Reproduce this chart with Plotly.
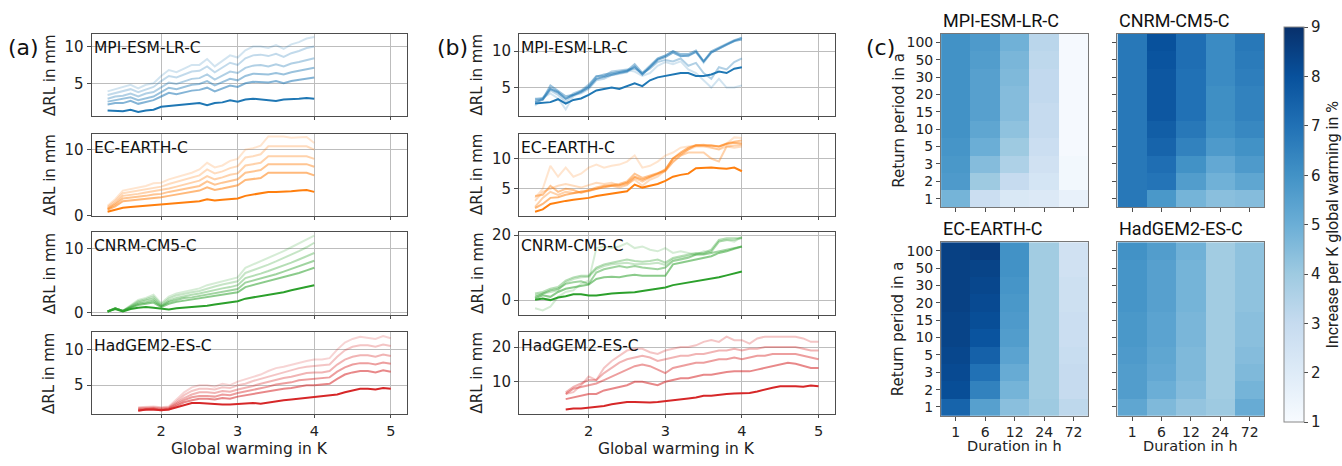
import plotly.graph_objects as go

W, H = 1342, 466

# ---------------- data ----------------
X_A = [1.3, 1.4, 1.5, 1.6, 1.7, 1.8, 1.9, 2.0, 2.1, 2.2, 2.3, 2.4, 2.5, 2.6, 2.7, 2.8, 2.9, 3.0,
       3.1, 3.2, 3.3, 3.4, 3.5, 3.6, 3.7, 3.8, 3.9, 4.0]
X_H = [1.7, 1.8, 1.9, 2.0, 2.1, 2.2, 2.3, 2.4, 2.5, 2.6, 2.7, 2.8, 2.9, 3.0, 3.1, 3.2, 3.3, 3.4,
       3.5, 3.6, 3.7, 3.8, 3.9, 4.0, 4.1, 4.2, 4.3, 4.4, 4.5, 4.6, 4.7, 4.8, 4.9, 5.0]

# panel (a): line 0 = darkest, then lighter ones
A_MPI = [
    [1.3, 1.3, 1.2, 1.4, 1.1, 1.3, 1.4, 1.8, 1.9, 2.0, 2.1, 2.2, 2.3, 2.0, 2.3, 2.4, 2.7, 2.5, 2.8, 2.9, 2.8, 2.7, 2.6, 2.8, 2.8, 2.9, 3.0, 2.9],
    [2.1, 2.3, 2.3, 2.6, 2.2, 2.5, 2.7, 3.2, 3.7, 3.5, 3.8, 4.0, 4.1, 4.4, 3.9, 4.3, 4.7, 4.5, 5.0, 5.2, 5.2, 5.1, 5.3, 5.0, 5.3, 5.5, 5.7, 5.8],
    [2.5, 2.7, 2.8, 3.1, 2.7, 3.0, 3.2, 3.8, 4.4, 4.2, 4.5, 4.8, 4.9, 5.3, 4.7, 5.1, 5.6, 5.4, 6.0, 6.3, 6.3, 6.2, 6.4, 6.2, 6.5, 6.7, 6.9, 7.1],
    [2.9, 3.2, 3.3, 3.6, 3.2, 3.6, 3.8, 4.5, 5.1, 4.9, 5.3, 5.6, 5.7, 6.2, 5.5, 6.0, 6.6, 6.4, 7.1, 7.4, 7.5, 7.3, 7.6, 7.3, 7.7, 7.9, 8.2, 8.4],
    [3.4, 3.7, 3.9, 4.2, 3.8, 4.2, 4.5, 5.3, 6.0, 5.8, 6.2, 6.6, 6.7, 7.3, 6.5, 7.1, 7.8, 7.5, 8.4, 8.8, 8.9, 8.7, 9.0, 8.6, 9.1, 9.4, 9.8, 10.0],
    [3.9, 4.2, 4.5, 4.8, 4.3, 4.8, 5.0, 6.0, 6.8, 6.5, 7.0, 7.5, 7.5, 8.3, 7.3, 8.0, 8.8, 8.5, 9.5, 10.0, 10.0, 9.8, 10.2, 9.7, 10.3, 10.6, 11.1, 11.3],
]
A_EC = [
    [0.6, 0.9, 1.2, 1.3, 1.4, 1.4, 1.5, 1.6, 1.7, 1.8, 1.9, 2.0, 2.2, 2.5, 2.3, 2.4, 2.5, 2.6, 3.0, 3.2, 3.3, 3.6, 3.6, 3.6, 3.7, 3.8, 3.9, 3.6],
    [0.9, 1.4, 2.2, 2.3, 2.4, 2.5, 2.7, 2.8, 3.0, 3.2, 3.4, 3.5, 3.8, 4.3, 3.9, 4.1, 4.4, 4.6, 5.4, 5.6, 5.7, 6.5, 6.5, 6.5, 6.4, 6.4, 6.5, 6.1],
    [1.0, 1.7, 2.6, 2.7, 2.8, 3.0, 3.2, 3.3, 3.6, 3.8, 4.0, 4.2, 4.5, 5.2, 4.7, 5.0, 5.3, 5.5, 6.5, 6.7, 6.9, 7.8, 7.8, 7.8, 7.7, 7.7, 7.8, 7.4],
    [1.1, 1.9, 3.0, 3.1, 3.3, 3.5, 3.7, 3.8, 4.1, 4.4, 4.7, 4.9, 5.3, 6.0, 5.5, 5.8, 6.2, 6.4, 7.6, 7.8, 8.0, 9.0, 9.0, 9.0, 8.9, 8.9, 9.0, 8.6],
    [1.3, 2.2, 3.4, 3.6, 3.8, 4.0, 4.3, 4.4, 4.8, 5.1, 5.4, 5.7, 6.1, 7.0, 6.4, 6.7, 7.2, 7.5, 8.8, 9.0, 9.3, 10.5, 10.5, 10.5, 10.4, 10.4, 10.5, 10.0],
    [1.5, 2.5, 3.8, 4.0, 4.3, 4.5, 4.9, 5.0, 5.5, 5.8, 6.2, 6.5, 7.0, 8.0, 7.3, 7.6, 8.3, 8.6, 10.0, 10.2, 10.6, 12.0, 12.0, 12.0, 11.8, 11.8, 11.9, 11.0],
]
A_CNRM = [
    [0.2, 0.6, 0.2, 0.6, 0.8, 0.9, 0.8, 0.6, 0.5, 0.7, 0.8, 0.8, 0.9, 1.1, 1.3, 1.5, 1.6, 1.8, 2.2, 2.4, 2.5, 2.8, 3.0, 3.2, 3.5, 3.8, 4.0, 4.3],
    [0.2, 0.7, 0.3, 0.8, 1.2, 1.4, 1.6, 0.9, 1.4, 1.7, 1.9, 2.1, 2.2, 2.5, 2.7, 2.9, 3.0, 3.2, 4.0, 4.3, 4.6, 4.9, 5.2, 5.5, 5.9, 6.2, 6.6, 7.0],
    [0.2, 0.7, 0.3, 0.9, 1.4, 1.6, 1.9, 1.0, 1.7, 2.0, 2.3, 2.4, 2.6, 2.9, 3.1, 3.3, 3.5, 3.7, 4.7, 5.0, 5.3, 5.7, 6.0, 6.4, 6.8, 7.2, 7.6, 8.1],
    [0.2, 0.7, 0.3, 1.0, 1.6, 1.9, 2.2, 1.1, 1.9, 2.3, 2.6, 2.8, 3.0, 3.3, 3.6, 3.8, 4.0, 4.3, 5.4, 5.7, 6.1, 6.5, 6.9, 7.3, 7.8, 8.3, 8.8, 9.3],
    [0.2, 0.7, 0.3, 1.1, 1.8, 2.1, 2.5, 1.3, 2.2, 2.7, 3.0, 3.2, 3.4, 3.8, 4.1, 4.4, 4.6, 4.9, 6.2, 6.6, 7.1, 7.5, 8.0, 8.5, 9.0, 9.6, 10.2, 10.9],
    [0.2, 0.7, 0.3, 1.2, 2.0, 2.3, 2.8, 1.5, 2.5, 3.0, 3.3, 3.6, 3.8, 4.3, 4.6, 5.0, 5.2, 5.5, 7.0, 7.5, 8.0, 8.5, 9.0, 9.6, 10.2, 10.8, 11.4, 12.0],
]
A_HAD = [
    [1.4, 1.6, 1.6, 1.5, 1.6, 1.9, 2.2, 2.5, 2.5, 2.4, 2.4, 2.3, 2.3, 2.4, 2.4, 2.5, 2.4, 2.6, 2.7, 2.9, 3.0, 3.1, 3.2, 3.3, 3.4, 3.5, 3.7, 4.0, 4.3, 4.5, 4.5, 4.4, 4.6, 4.5],
    [1.5, 1.6, 1.6, 1.5, 1.6, 2.1, 2.6, 2.9, 3.1, 3.1, 3.0, 3.2, 3.1, 3.4, 3.6, 3.8, 3.9, 4.1, 4.3, 4.5, 4.6, 4.8, 5.0, 5.0, 5.1, 5.2, 5.9, 6.5, 6.8, 7.0, 7.0, 6.8, 7.1, 6.9],
    [1.6, 1.7, 1.7, 1.6, 1.7, 2.3, 2.9, 3.3, 3.5, 3.5, 3.4, 3.7, 3.6, 3.9, 4.1, 4.3, 4.5, 4.8, 5.1, 5.2, 5.4, 5.7, 5.8, 5.9, 5.9, 6.1, 6.9, 7.5, 7.9, 8.1, 8.1, 7.9, 8.2, 8.0],
    [1.7, 1.8, 1.8, 1.7, 1.8, 2.5, 3.2, 3.7, 4.0, 4.0, 3.9, 4.2, 4.1, 4.4, 4.6, 4.9, 5.2, 5.5, 5.8, 6.0, 6.2, 6.5, 6.7, 6.8, 6.8, 7.0, 7.9, 8.6, 9.0, 9.2, 9.2, 9.0, 9.3, 9.1],
    [1.8, 1.9, 1.9, 1.8, 1.9, 2.7, 3.6, 4.2, 4.5, 4.5, 4.4, 4.7, 4.6, 5.0, 5.2, 5.6, 5.9, 6.3, 6.6, 6.8, 7.1, 7.4, 7.6, 7.7, 7.8, 7.9, 9.0, 9.9, 10.4, 10.6, 10.6, 10.4, 10.7, 10.5],
    [1.9, 2.0, 2.0, 1.9, 2.0, 3.0, 4.0, 4.7, 5.0, 5.0, 4.8, 5.2, 5.0, 5.5, 5.8, 6.2, 6.5, 7.0, 7.4, 7.6, 7.9, 8.2, 8.4, 8.6, 8.6, 8.8, 10.0, 11.0, 11.5, 11.8, 11.7, 11.5, 11.9, 11.6],
]

# panel (b)
B_MPI = [
    [2.8, 2.9, 3.0, 3.4, 2.8, 3.3, 3.5, 4.0, 4.6, 4.8, 5.0, 4.8, 5.2, 5.6, 5.2, 6.0, 6.4, 6.6, 6.7, 7.0, 7.0, 6.6, 6.6, 6.8, 7.2, 7.0, 7.6, 7.8],
    [3.0, 3.3, 4.8, 4.3, 3.5, 3.9, 4.4, 5.0, 6.2, 6.5, 6.8, 7.0, 7.2, 7.9, 6.8, 7.8, 8.8, 9.2, 9.8, 9.3, 9.4, 9.9, 8.6, 9.8, 10.4, 10.9, 11.4, 11.6],
    [3.2, 3.4, 5.3, 4.6, 3.8, 4.0, 4.5, 5.2, 6.5, 6.8, 7.0, 7.2, 7.3, 8.2, 7.0, 8.0, 9.0, 9.4, 10.0, 9.6, 9.6, 10.1, 8.6, 10.0, 10.5, 11.0, 11.5, 11.8],
    [3.4, 3.6, 4.9, 4.4, 3.4, 4.2, 4.6, 5.4, 6.6, 6.6, 7.2, 7.3, 7.5, 7.6, 7.0, 7.6, 8.5, 8.8, 8.6, 9.0, 8.0, 8.4, 7.0, 6.2, 7.8, 7.5, 8.5, 9.0],
    [3.5, 3.4, 4.6, 4.0, 3.0, 4.0, 4.2, 4.8, 6.0, 6.2, 6.7, 6.9, 7.1, 7.8, 6.8, 7.8, 8.9, 9.4, 10.0, 9.4, 9.3, 9.9, 8.4, 9.8, 10.3, 10.9, 11.4, 11.9],
    [2.5, 3.6, 4.2, 3.5, 2.0, 3.8, 4.3, 5.0, 6.2, 6.4, 6.9, 7.2, 7.4, 7.2, 6.6, 7.0, 8.0, 8.5, 8.2, 8.6, 7.5, 7.0, 6.0, 5.0, 6.2, 5.0, 5.0, 5.3],
]
B_EC = [
    [1.2, 1.6, 2.5, 2.8, 3.0, 3.2, 3.3, 3.5, 3.8, 4.0, 4.1, 4.3, 4.6, 5.7, 5.2, 5.5, 5.8, 6.3, 7.0, 7.3, 7.5, 8.4, 8.5, 8.5, 8.4, 8.3, 8.5, 7.9],
    [1.8, 2.5, 3.5, 3.6, 4.0, 4.3, 4.5, 4.7, 5.0, 5.3, 5.5, 5.6, 6.0, 7.0, 6.5, 7.0, 7.5, 8.2, 10.0, 11.0, 11.8, 12.2, 12.2, 12.1, 12.0, 12.4, 12.6, 12.5],
    [3.8, 4.0, 5.5, 4.5, 5.0, 4.8, 4.3, 4.8, 5.2, 5.5, 5.6, 5.8, 6.2, 7.5, 6.8, 7.2, 7.7, 8.0, 10.0, 10.8, 11.5, 12.2, 12.2, 12.2, 12.0, 12.5, 12.8, 13.0],
    [2.0, 3.5, 4.5, 4.0, 4.5, 4.3, 4.5, 4.6, 5.0, 5.4, 5.5, 5.2, 5.6, 6.8, 6.2, 6.9, 7.4, 7.9, 9.4, 10.5, 11.0, 11.0, 11.0, 10.0, 9.5, 12.0, 12.2, 12.3],
    [3.0, 4.5, 5.0, 5.5, 5.8, 5.5, 5.2, 5.6, 6.0, 5.8, 6.0, 5.5, 5.8, 6.5, 5.5, 6.5, 7.0, 8.0, 9.5, 10.5, 11.5, 12.0, 12.0, 11.8, 11.5, 12.0, 11.8, 12.0],
    [3.5, 5.0, 8.8, 7.0, 8.5, 7.0, 7.5, 8.5, 9.0, 8.5, 8.8, 9.0, 9.5, 10.5, 8.5, 8.8, 9.5, 10.5, 11.0, 11.8, 12.0, 12.2, 12.3, 11.8, 11.5, 12.5, 13.5, 13.4],
]
B_CNRM = [
    [0.1, 0.5, 0.0, 0.8, 1.2, 1.8, 1.8, 1.4, 1.4, 1.8, 2.0, 2.2, 2.3, 2.4, 2.8, 3.2, 3.5, 3.9, 4.6, 5.0, 5.3, 5.8, 6.2, 6.5, 7.0, 7.6, 8.2, 8.8],
    [0.5, 1.5, 1.0, 2.5, 3.5, 4.0, 4.5, 4.8, 6.5, 7.0, 7.2, 7.0, 7.5, 7.8, 7.5, 7.6, 7.5, 7.5, 11.0, 11.5, 12.0, 12.5, 13.0, 13.5, 14.5, 15.0, 15.8, 16.5],
    [1.0, 2.0, 3.0, 3.5, 5.0, 5.5, 5.8, 5.0, 8.5, 9.5, 10.0, 10.5, 10.0, 10.5, 10.0, 9.8, 9.5, 10.0, 12.0, 12.5, 13.0, 14.0, 14.0, 14.5, 15.0, 15.5, 16.0, 16.5],
    [2.0, 2.5, 3.5, 4.0, 6.0, 7.0, 7.5, 7.5, 10.0, 11.0, 11.5, 12.0, 12.5, 12.0, 11.8, 12.0, 12.5, 11.5, 13.0, 13.5, 14.0, 14.5, 14.5, 15.5, 18.5, 19.0, 19.0, 19.0],
    [1.5, 2.0, 2.5, 3.0, 5.5, 6.5, 7.0, 7.2, 9.5, 10.5, 11.0, 11.2, 11.5, 11.0, 11.0, 11.2, 11.5, 10.8, 12.5, 13.0, 13.5, 14.0, 14.2, 15.0, 18.0, 18.5, 18.5, 19.2],
    [-2.5, -3.2, -2.0, 1.0, 2.5, 3.0, 5.0, 6.0, 16.0, 16.5, 16.0, 16.5, 17.5, 16.0, 16.5, 15.5, 15.0, 16.0, 14.5, 15.0, 14.5, 14.0, 15.0, 14.8, 18.0, 18.5, 18.0, 19.5],
]
B_HAD = [
    [2.0, 2.3, 2.3, 2.5, 2.6, 3.0, 3.5, 3.8, 4.2, 4.2, 4.0, 4.0, 4.2, 4.4, 4.6, 5.0, 5.2, 5.5, 6.0, 6.0, 6.3, 6.5, 6.6, 6.7, 6.8, 7.2, 7.8, 8.3, 8.7, 8.8, 8.7, 8.6, 8.9, 8.7],
    [5.0, 5.5, 6.0, 6.5, 6.5, 7.5, 8.0, 8.5, 9.0, 10.0, 10.0, 9.5, 9.0, 10.0, 10.5, 11.0, 11.0, 11.5, 12.0, 12.0, 12.5, 12.8, 13.0, 13.0, 13.0, 13.5, 14.0, 14.5, 15.0, 15.5, 15.2, 14.5, 14.0, 14.0],
    [6.5, 8.0, 8.5, 9.0, 9.5, 10.5, 11.5, 12.5, 13.5, 14.5, 15.0, 14.5, 13.5, 12.5, 14.0, 14.5, 15.0, 15.5, 15.5, 16.0, 16.5, 16.5, 17.0, 16.5, 17.0, 17.5, 17.5, 18.0, 18.0, 18.0, 18.0, 17.5, 17.0, 16.5],
    [7.0, 8.5, 9.5, 10.5, 10.5, 12.5, 14.0, 15.5, 16.5, 17.0, 17.5, 17.0, 16.0, 16.5, 17.0, 17.5, 17.5, 18.0, 18.0, 18.5, 19.0, 19.0, 19.5, 19.0, 19.5, 19.5, 20.0, 20.0, 20.0, 20.0, 20.0, 19.5, 19.0, 19.0],
    [6.5, 7.0, 9.0, 11.5, 10.5, 14.0, 16.0, 17.5, 19.0, 19.5, 19.5, 18.5, 18.0, 19.0, 19.5, 20.0, 20.0, 20.5, 21.5, 22.0, 21.5, 23.0, 22.0, 22.0, 21.0, 22.5, 23.0, 23.0, 23.0, 23.0, 23.0, 22.5, 21.5, 21.5],
]

# panel (c): rows = return periods (1..100), cols = durations
DURATIONS = ["1", "6", "12", "24", "72"]
RETURN_PERIODS = ["1", "2", "3", "5", "10", "15", "20", "30", "50", "100"]
C_MPI = [
    [4.8, 2.8, 2.2, 2.1, 1.6],
    [5.7, 4.0, 3.0, 2.4, 1.2],
    [5.8, 4.5, 3.6, 2.6, 1.2],
    [5.9, 5.0, 4.0, 2.8, 1.1],
    [6.0, 5.3, 4.3, 3.0, 1.1],
    [6.0, 5.5, 4.5, 3.0, 1.1],
    [6.0, 5.5, 4.5, 3.1, 1.1],
    [6.0, 5.5, 4.6, 3.1, 1.1],
    [6.0, 5.6, 4.7, 3.2, 1.1],
    [6.0, 5.7, 4.9, 3.3, 1.1],
]
C_CNRM = [
    [6.8, 5.8, 4.8, 4.4, 4.5],
    [6.8, 6.9, 5.6, 4.9, 5.3],
    [6.8, 7.1, 6.0, 5.2, 5.7],
    [6.8, 7.4, 6.5, 5.7, 6.0],
    [6.8, 7.6, 6.8, 6.0, 6.3],
    [6.8, 7.8, 7.0, 6.1, 6.5],
    [6.8, 7.8, 7.0, 6.1, 6.5],
    [6.8, 7.8, 7.0, 6.2, 6.6],
    [6.8, 7.9, 7.1, 6.2, 6.7],
    [6.8, 8.0, 7.1, 6.2, 6.8],
]
C_EC = [
    [7.4, 5.5, 4.4, 4.0, 3.2],
    [8.1, 6.5, 4.8, 3.9, 3.0],
    [8.2, 7.0, 5.1, 3.9, 3.0],
    [8.3, 7.5, 5.4, 3.9, 2.9],
    [8.4, 7.9, 5.6, 3.9, 2.8],
    [8.4, 8.1, 5.7, 3.9, 2.8],
    [8.5, 8.2, 5.8, 3.9, 2.7],
    [8.5, 8.3, 5.9, 3.9, 2.7],
    [8.5, 8.4, 6.0, 3.9, 2.6],
    [8.5, 8.6, 6.0, 3.9, 2.6],
]
C_HAD = [
    [5.3, 4.6, 4.2, 4.0, 5.1],
    [5.6, 5.0, 4.5, 3.9, 4.8],
    [5.6, 5.2, 4.6, 3.9, 4.6],
    [5.7, 5.3, 4.6, 3.9, 4.5],
    [5.8, 5.4, 4.7, 3.9, 4.4],
    [5.8, 5.4, 4.7, 3.9, 4.4],
    [5.9, 5.5, 4.8, 3.9, 4.3],
    [5.9, 5.5, 4.8, 3.9, 4.3],
    [5.9, 5.5, 4.8, 3.9, 4.3],
    [6.0, 5.6, 4.9, 3.9, 4.3],
]

MODELS = ["MPI-ESM-LR-C", "EC-EARTH-C", "CNRM-CM5-C", "HadGEM2-ES-C"]
COLORS = [(31, 119, 180), (255, 127, 14), (44, 160, 44), (214, 39, 40)]
ALPHAS = [1.0, 0.55, 0.45, 0.35, 0.27, 0.2]

# ---------------- layout helpers ----------------
def px_x(p):
    return p / W

def px_y(p):
    return 1 - p / H

ROWS = [(29, 114), (132, 217), (234, 319), (337, 422)]
COL_A = (92, 409)
COL_B = (521.7, 839)
YR_A = [[0.5, 11.7], [-0.05, 12.4], [-0.3, 12.5], [0.9, 12.45]]
YR_B = [[1.05, 12.35], [0.5, 14.1], [-4.5, 20.8], [0.6, 24.3]]
YT_A = [[5, 10], [0, 10], [0, 10], [5, 10]]
YT_B = [[5, 10], [5, 10], [0, 20], [10, 20]]

FONT = "DejaVu Sans"
FRAME = "#4d4d4d"
GRID = "#bdbdbd"
TXT = "#222"

fig = go.Figure()
layout = dict(
    width=W, height=H, margin=dict(l=0, r=0, t=0, b=0),
    paper_bgcolor="white", plot_bgcolor="white", showlegend=False,
    font=dict(family=FONT, size=15, color=TXT),
)
annotations = []

panels_a = [A_MPI, A_EC, A_CNRM, A_HAD]
panels_b = [B_MPI, B_EC, B_CNRM, B_HAD]

ax = 0
for col, (panels, colpx, yr, yt) in enumerate([(panels_a, COL_A, YR_A, YT_A), (panels_b, COL_B, YR_B, YT_B)]):
    for r in range(4):
        ax += 1
        xs = X_H if r == 3 else X_A
        lines = panels[r]
        c = COLORS[r]
        for i in range(len(lines) - 1, -1, -1):
            fig.add_trace(go.Scatter(
                x=xs, y=lines[i], mode="lines",
                line=dict(color=f"rgba({c[0]},{c[1]},{c[2]},{ALPHAS[i]})", width=2),
                xaxis=f"x{ax}", yaxis=f"y{ax}", hoverinfo="skip"))
        top, bot = ROWS[r]
        layout[f"xaxis{ax}"] = dict(
            domain=[px_x(colpx[0]), px_x(colpx[1])], anchor=f"y{ax}",
            range=[1.09, 5.21], tickvals=[2, 3, 4, 5], showticklabels=(r == 3),
            ticks="outside", ticklen=3, tickcolor=FRAME, showgrid=True, gridcolor=GRID,
            showline=True, mirror=True, linecolor=FRAME, linewidth=1, zeroline=False,
            tickfont=dict(size=14.5, color=TXT),
        )
        layout[f"yaxis{ax}"] = dict(
            domain=[px_y(bot), px_y(top)], anchor=f"x{ax}",
            range=yr[r], tickvals=yt[r], ticks="outside", ticklen=4, tickcolor=FRAME,
            showgrid=True, gridcolor=GRID, showline=True, mirror=True, linecolor=FRAME,
            linewidth=1, zeroline=False, tickfont=dict(size=15, color=TXT),
        )
        annotations.append(dict(
            text=MODELS[r], xref="paper", yref="paper", x=px_x(colpx[0]), y=px_y(top + 3),
            xanchor="left", yanchor="top", showarrow=False, font=dict(size=15.5, color="#111")))
        annotations.append(dict(
            text="ΔRL in mm", xref="paper", yref="paper",
            x=px_x(colpx[0] - 42), y=px_y((top + bot) / 2), textangle=-90,
            xanchor="center", yanchor="middle", showarrow=False, font=dict(size=15, color=TXT)))
    annotations.append(dict(
        text="Global warming in K", xref="paper", yref="paper",
        x=px_x((colpx[0] + colpx[1]) / 2), y=px_y(458), xanchor="center", yanchor="middle",
        showarrow=False, font=dict(size=15.5, color=TXT)))

# ---------------- heatmaps ----------------
HEAT_X = [(946, 1094), (1123.3, 1271)]
HEAT_Y = [(28.7, 208), (244, 423.3)]
heat_data = [(C_MPI, "MPI-ESM-LR-C", 0, 0), (C_CNRM, "CNRM-CM5-C", 1, 0),
             (C_EC, "EC-EARTH-C", 0, 1), (C_HAD, "HadGEM2-ES-C", 1, 1)]
for k, (z, name, cx, ry) in enumerate(heat_data):
    ax += 1
    fig.add_trace(go.Heatmap(
        z=z, x=DURATIONS, y=RETURN_PERIODS, zmin=1, zmax=9, colorscale="Blues",
        xaxis=f"x{ax}", yaxis=f"y{ax}", showscale=(k == 0), hoverinfo="skip",
        colorbar=dict(
            x=px_x(1291), xanchor="left", xpad=0, ypad=0,
            y=px_y((28.7 + 423.3) / 2), yanchor="middle",
            lenmode="pixels", len=394.6, thicknessmode="pixels", thickness=20,
            outlinewidth=1, outlinecolor="#888", tickvals=list(range(1, 10)),
            ticks="outside", ticklen=4, tickcolor=FRAME, tickfont=dict(size=15, color=TXT),
            title=dict(text="Increase per K global warming in %", side="right",
                       font=dict(family="Roboto", size=16, color=TXT)),
        ),
    ))
    x0, x1 = HEAT_X[cx]
    y0, y1 = HEAT_Y[ry]
    layout[f"xaxis{ax}"] = dict(
        domain=[px_x(x0), px_x(x1)], anchor=f"y{ax}", type="category",
        tickmode="array", tickvals=DURATIONS, ticktext=DURATIONS,
        showticklabels=(ry == 1), ticks="outside", ticklen=4, tickcolor=FRAME,
        showline=True, mirror=True, linecolor="#777", linewidth=1, showgrid=False,
        tickfont=dict(size=14, color=TXT),
    )
    layout[f"yaxis{ax}"] = dict(
        domain=[px_y(y1), px_y(y0)], anchor=f"x{ax}", type="category",
        tickmode="array", tickvals=RETURN_PERIODS, ticktext=RETURN_PERIODS,
        showticklabels=(cx == 0), ticks="outside", ticklen=4, tickcolor=FRAME,
        showline=True, mirror=True, linecolor="#777", linewidth=1, showgrid=False,
        tickfont=dict(size=14, color=TXT),
    )
    annotations.append(dict(
        text=name, xref="paper", yref="paper", x=px_x(x0), y=px_y(y0 - 1),
        xanchor="left", yanchor="bottom", showarrow=False,
        font=dict(family="Roboto", size=18, color="#111")))
    if cx == 0:
        annotations.append(dict(
            text="Return period in a", xref="paper", yref="paper",
            x=px_x(903), y=px_y((y0 + y1) / 2), textangle=-90, xanchor="center",
            yanchor="middle", showarrow=False, font=dict(size=15, color=TXT)))
    if ry == 1:
        annotations.append(dict(
            text="Duration in h", xref="paper", yref="paper",
            x=px_x((x0 + x1) / 2), y=px_y(455), xanchor="center", yanchor="middle",
            showarrow=False, font=dict(size=14.5, color=TXT)))

# panel labels
for lab, xp in [("(a)", 24), ("(b)", 455), ("(c)", 885)]:
    annotations.append(dict(
        text=lab, xref="paper", yref="paper", x=px_x(xp), y=px_y(43),
        xanchor="center", yanchor="middle", showarrow=False,
        font=dict(size=22, color="#111")))

layout["annotations"] = annotations
fig.update_layout(**layout)
fig.write_html("out.html")
